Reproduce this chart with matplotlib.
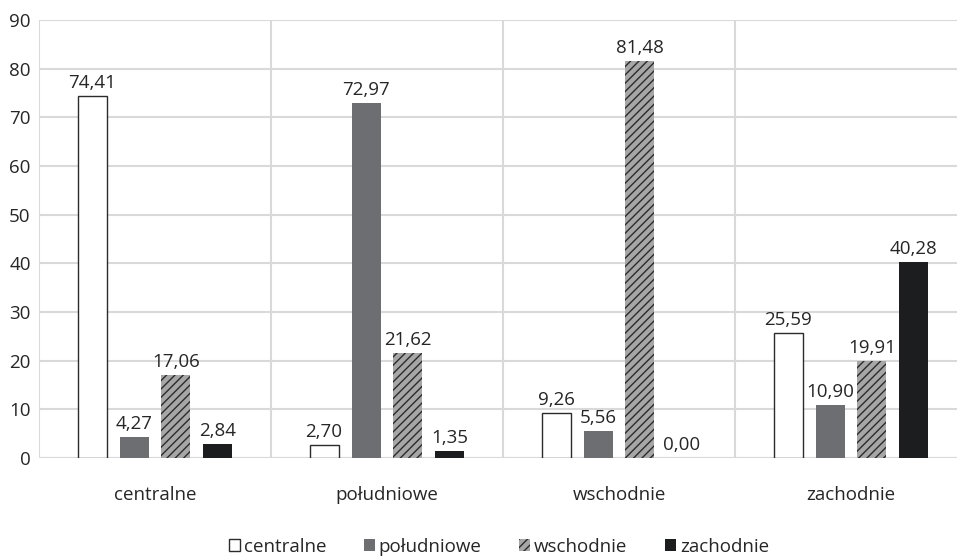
import matplotlib
matplotlib.use("Agg")
import matplotlib.pyplot as plt
from matplotlib.patches import Patch
import numpy as np

categories = ["centralne", "południowe", "wschodnie", "zachodnie"]
series_names = ["centralne", "południowe", "wschodnie", "zachodnie"]
values = {
    "centralne": [74.41, 2.70, 9.26, 25.59],
    "południowe": [4.27, 72.97, 5.56, 10.90],
    "wschodnie": [17.06, 21.62, 81.48, 19.91],
    "zachodnie": [2.84, 1.35, 0.00, 40.28],
}
y_ticks = [0, 10, 20, 30, 40, 50, 60, 70, 80, 90]

plt.rcParams["font.family"] = ["Open Sans", "DejaVu Sans"]
plt.rcParams["hatch.color"] = "#2b2b2b"
plt.rcParams["hatch.linewidth"] = 1.0

FS = 13.5
TXT = "#262626"

styles = {
    "centralne": dict(facecolor="white", edgecolor="#2b2b2b", linewidth=1.0),
    "południowe": dict(facecolor="#6d6e71", edgecolor="#6d6e71", linewidth=0),
    "wschodnie": dict(facecolor="#a6a6a6", edgecolor="#2b2b2b", linewidth=0, hatch="////"),
    "zachodnie": dict(facecolor="#1b1d1f", edgecolor="#1b1d1f", linewidth=0),
}

fig = plt.figure(figsize=(9.57, 5.56), dpi=100)
ax = fig.add_axes([39 / 957, 1 - 458 / 556, 928 / 957, 438 / 556])

x = np.arange(len(categories))
bar_w = 0.125
pitch = 0.181
offsets = (np.arange(4) - 1.5) * pitch

for i, name in enumerate(series_names):
    bars = ax.bar(x + offsets[i], values[name], width=bar_w, zorder=3, **styles[name])
    for b, v in zip(bars, values[name]):
        ax.annotate(f"{v:.2f}".replace(".", ","),
                    (b.get_x() + b.get_width() / 2, b.get_height()),
                    xytext=(0, 3), textcoords="offset points",
                    ha="center", va="bottom", fontsize=FS, color=TXT, zorder=4)

ax.set_xlim(-0.5, len(categories) - 0.5)
ax.set_ylim(0, 90)
ax.set_yticks(y_ticks)
ax.set_xticks(x)
ax.set_xticklabels(categories)
ax.tick_params(axis="both", length=0, labelsize=FS, labelcolor=TXT)
ax.tick_params(axis="x", pad=20)
ax.tick_params(axis="y", pad=6)

ax.set_xticks(np.arange(-0.5, len(categories), 1.0), minor=True)
ax.tick_params(axis="x", which="minor", length=0)
ax.grid(axis="y", which="major", color="#d9d9d9", linewidth=1.5, zorder=0)
ax.grid(axis="x", which="minor", color="#d9d9d9", linewidth=1.5, zorder=0)
ax.grid(axis="x", which="major", visible=False)
for s in ax.spines.values():
    s.set_visible(False)
ax.axhline(0, color="#d9d9d9", linewidth=1.5, zorder=2)

handles = [Patch(**styles[n], label=n) for n in series_names]
fig.legend(handles=handles, loc="center", bbox_to_anchor=(499 / 957, 1 - 547 / 556),
           ncol=4, frameon=False, fontsize=FS, handlelength=0.6, handleheight=0.6,
           handletextpad=0.2, columnspacing=2.0, labelcolor=TXT)

fig.savefig("out.png", dpi=100)
